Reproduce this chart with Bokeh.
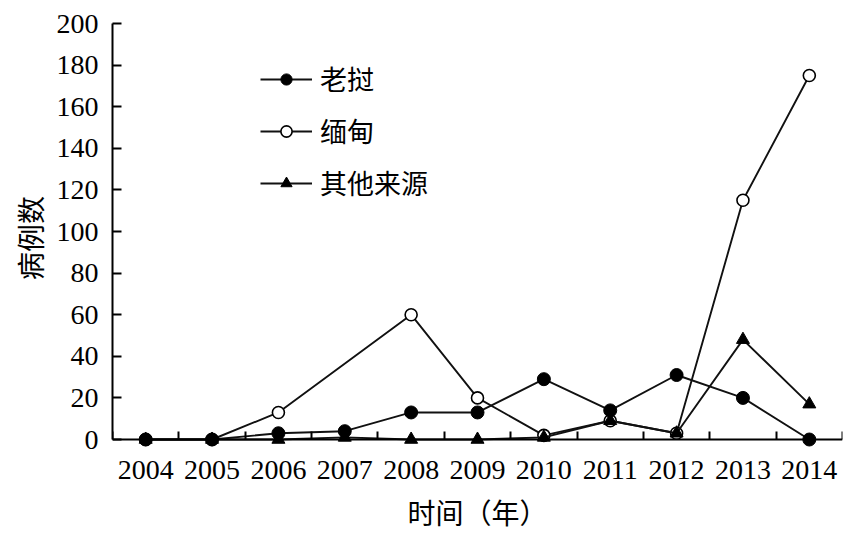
from bokeh.plotting import figure
from bokeh.models import Range1d, FixedTicker, Legend, LegendItem, LinearAxis
from bokeh.core.properties import value
from bokeh.embed import file_html
from bokeh.resources import INLINE

# ---- data ----
years = [2004, 2005, 2006, 2007, 2008, 2009, 2010, 2011, 2012, 2013, 2014]
laos = [0, 0, 3, 4, 13, 13, 29, 14, 31, 20, 0]
burma_years = [2004, 2005, 2006, 2008, 2009, 2010, 2011, 2012, 2013, 2014]
burma = [0, 0, 13, 60, 20, 2, 9, 3, 115, 175]
other = [0, 0, 0, 1, 0, 0, 1, 9, 3, 48, 17]
y_ticks = [0, 20, 40, 60, 80, 100, 120, 140, 160, 180, 200]
x_bounds = [2003.5, 2004.5, 2005.5, 2006.5, 2007.5, 2008.5, 2009.5,
            2010.5, 2011.5, 2012.5, 2013.5, 2014.5]
labels = ["老挝", "缅甸", "其他来源"]
x_title = "时间（年）"
y_title = "病例数"

SERIF = "'Liberation Serif'"
CJK = "'Noto Sans CJK SC'"
INK = "#111111"

p = figure(frame_width=730, frame_height=429, output_backend="svg",
           toolbar_location=None,
           x_range=Range1d(2003.5, 2014.5), y_range=Range1d(-6.25, 200),
           x_axis_location=None,
           min_border_left=112, min_border_right=8, min_border_top=23,
           min_border_bottom=77)
p.outline_line_color = None
p.xgrid.visible = False
p.ygrid.visible = False
p.background_fill_color = "white"
p.border_fill_color = "white"

# x axis line + boundary ticks at y = 0
xa = LinearAxis(fixed_location=0)
xa.ticker = FixedTicker(ticks=years, minor_ticks=x_bounds)
xa.major_tick_in = 0
xa.major_tick_out = 0
xa.minor_tick_in = 8
xa.minor_tick_out = 0
xa.minor_tick_line_color = "black"
xa.minor_tick_line_width = 2
xa.axis_line_width = 2
xa.axis_line_color = "black"
xa.major_label_text_alpha = 0
xa.major_label_text_font_size = "1px"
xa.major_label_standoff = 0
p.add_layout(xa, "below")

# x labels (below the frame)
xl = LinearAxis()
xl.ticker = FixedTicker(ticks=years)
xl.axis_line_color = None
xl.major_tick_in = 0
xl.major_tick_out = 0
xl.minor_tick_in = 0
xl.minor_tick_out = 0
xl.major_tick_line_color = None
xl.minor_tick_line_color = None
xl.major_label_text_font = SERIF
xl.major_label_text_font_size = "28px"
xl.major_label_text_color = "black"
xl.major_label_standoff = 8
xl.axis_label = x_title
xl.axis_label_text_font = CJK
xl.axis_label_text_font_size = "28px"
xl.axis_label_text_font_style = "normal"
xl.axis_label_text_color = "black"
xl.axis_label_standoff = 10
p.add_layout(xl, "below")

# y axis
ya = p.yaxis[0]
ya.bounds = (0, 200)
ya.ticker = FixedTicker(ticks=y_ticks)
ya.major_tick_in = 9
ya.major_tick_out = 0
ya.major_tick_line_width = 2
ya.major_tick_line_color = "black"
ya.minor_tick_in = 0
ya.minor_tick_out = 0
ya.axis_line_width = 2
ya.axis_line_color = "black"
ya.major_label_text_font = SERIF
ya.major_label_text_font_size = "28px"
ya.major_label_text_color = "black"
ya.major_label_standoff = 14
ya.axis_label = y_title
ya.axis_label_text_font = CJK
ya.axis_label_text_font_size = "28px"
ya.axis_label_text_font_style = "normal"
ya.axis_label_text_color = "black"
ya.axis_label_standoff = 4

# series
l_b = p.line(burma_years, burma, line_color=INK, line_width=1.9)
s_b = p.scatter(burma_years, burma, marker="circle", size=12,
                fill_color="white", line_color="black", line_width=1.6)
l_o = p.line(years, other, line_color=INK, line_width=1.9)
s_o = p.scatter(years, other, marker="triangle", size=13,
                fill_color="black", line_color="black")
l_l = p.line(years, laos, line_color=INK, line_width=1.9)
s_l = p.scatter(years, laos, marker="circle", size=13,
                fill_color="black", line_color="black")

legend = Legend(items=[
    LegendItem(label=labels[0], renderers=[l_l, s_l]),
    LegendItem(label=labels[1], renderers=[l_b, s_b]),
    LegendItem(label=labels[2], renderers=[l_o, s_o]),
], location=(148, 250))
legend.label_text_font = CJK
legend.label_text_font_size = "27px"
legend.label_text_color = "black"
legend.glyph_width = 52
legend.glyph_height = 28
legend.label_height = 28
legend.label_standoff = 8
legend.spacing = 13
legend.padding = 10
legend.margin = 0
legend.border_line_color = None
legend.background_fill_alpha = 0
p.add_layout(legend, "center")

open("out.html", "w").write(file_html(p, INLINE))
